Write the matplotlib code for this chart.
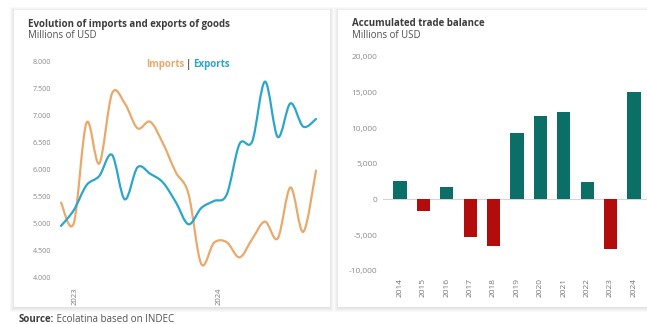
import numpy as np
import pandas as pd
import matplotlib.pyplot as plt
from matplotlib.path import Path
from matplotlib.patches import PathPatch, Rectangle

plt.rcParams['font.family'] = ['Open Sans', 'DejaVu Sans']

# monthly goods trade, millions of USD (Jan 2023 - Sep 2024)
months = [str(p) for p in pd.period_range('2023-01', '2024-09', freq='M')]
imports = [5390, 5010, 6860, 6110, 7400, 7220, 6760, 6880, 6480, 5950, 5550,
           4260, 4650, 4660, 4380, 4720, 5040, 4730, 5670, 4850, 5980]
exports = [4960, 5250, 5710, 5880, 6270, 5450, 6040, 5920, 5760, 5400, 4990,
           5290, 5420, 5540, 6470, 6520, 7620, 6600, 7220, 6790, 6930]
year_ticks = ['2023', '2024']

# accumulated trade balance, millions of USD
years = ['2014', '2015', '2016', '2017', '2018', '2019', '2020', '2021', '2022', '2023', '2024']
balance = [2600, -1600, 1700, -5200, -6500, 9400, 11750, 12250, 2450, -7000, 15150]

ORANGE = '#E9A96B'
BLUE = '#2BA6CB'
TEAL = '#0B6E67'
RED = '#B30C0C'

W, H = 647, 324
fig = plt.figure(figsize=(W / 100, H / 100), dpi=100)
fig.patch.set_facecolor('white')


def box(x0, y0, x1, y1):
    # pixel box (top-left origin) -> figure fraction [left, bottom, width, height]
    return [x0 / W, 1 - y1 / H, (x1 - x0) / W, (y1 - y0) / H]


def card(x0, y0, x1, y1):
    for k in range(5, 0, -1):
        l, b, w, h = box(x0 - k + 1, y0 - k + 2, x1 + k - 1, y1 + k)
        fig.patches.append(Rectangle((l, b), w, h, transform=fig.transFigure,
                                     facecolor='#000000', alpha=0.025, lw=0, zorder=-2))
    l, b, w, h = box(x0, y0, x1, y1)
    fig.patches.append(Rectangle((l, b), w, h, transform=fig.transFigure,
                                 facecolor='white', lw=0, zorder=-1))


card(14, 10, 330, 307)
card(338, 10, 660, 307)


def smooth_line(ax, xs, ys, color):
    pts = np.column_stack([xs, ys]).astype(float)
    n = len(pts)
    verts = [pts[0]]
    codes = [Path.MOVETO]
    for i in range(n - 1):
        p0 = pts[max(i - 1, 0)]
        p3 = pts[min(i + 2, n - 1)]
        c1 = pts[i] + (pts[i + 1] - p0) / 6
        c2 = pts[i + 1] - (p3 - pts[i]) / 6
        verts += [c1, c2, pts[i + 1]]
        codes += [Path.CURVE4] * 3
    ax.add_patch(PathPatch(Path(verts, codes), facecolor='none', edgecolor=color,
                           lw=1.6, clip_on=False, capstyle='round', joinstyle='round'))


# ---------------- left: imports / exports ----------------
ax1 = fig.add_axes(box(61, 61, 316, 278), zorder=2)
x = np.arange(len(months))
smooth_line(ax1, x, imports, ORANGE)
smooth_line(ax1, x, exports, BLUE)
ax1.set_xlim(0, len(months) - 1)
ax1.set_ylim(4000, 8000)
yt = np.arange(4000, 8001, 500)
ax1.set_yticks(yt)
ax1.set_yticklabels([f'{v:,}'.replace(',', '.') for v in yt], fontsize=5.2, color='#8a8a8a')
ax1.set_xticks([1.1, 12.4])
ax1.set_xticklabels(year_ticks, rotation=90, fontsize=5.5, color='#777777', va='top')
ax1.tick_params(axis='y', length=0, pad=7)
ax1.tick_params(axis='x', length=0, pad=7)
for s in ax1.spines.values():
    s.set_visible(False)
ax1.patch.set_alpha(0)

fig.text(184 / W, 1 - 64 / H, 'Imports', color=ORANGE, fontsize=7, fontweight='bold',
         ha='right', va='center')
fig.text(188.5 / W, 1 - 64 / H, '|', color='#555555', fontsize=7, fontweight='bold',
         ha='center', va='center')
fig.text(193 / W, 1 - 64 / H, 'Exports', color=BLUE, fontsize=7, fontweight='bold',
         ha='left', va='center')

fig.text(28 / W, 1 - 24 / H, 'Evolution of imports and exports of goods', fontsize=7,
         fontweight='bold', color='#3c3c3c', va='center')
fig.text(28 / W, 1 - 36 / H, 'Millions of USD', fontsize=6.9, color='#505050', va='center')

# ---------------- right: accumulated balance ----------------
ax2 = fig.add_axes(box(388.3, 57, 645.7, 270.7), zorder=2)
xb = np.arange(len(years))
ax2.bar(xb, balance, width=0.57, color=[TEAL if v >= 0 else RED for v in balance], zorder=2)
ax2.axhline(0, color='#d5d5d5', lw=0.8, zorder=1, xmin=-0.02, clip_on=False)
ax2.set_xlim(-0.5, len(years) - 0.5)
ax2.set_ylim(-10000, 20000)
yt2 = np.arange(-10000, 20001, 5000)
ax2.set_yticks(yt2)
ax2.set_yticklabels([f'{v:,}' for v in yt2], fontsize=6, color='#8a8a8a')
ax2.set_xticks(xb)
ax2.set_xticklabels(years, rotation=90, fontsize=6, color='#777777', va='top')
ax2.tick_params(axis='y', length=0, pad=8)
ax2.tick_params(axis='x', length=0, pad=5)
for s in ax2.spines.values():
    s.set_visible(False)
ax2.patch.set_alpha(0)

fig.text(352 / W, 1 - 24 / H, 'Accumulated trade balance', fontsize=7,
         fontweight='bold', color='#3c3c3c', va='center')
fig.text(352 / W, 1 - 36 / H, 'Millions of USD', fontsize=6.9, color='#505050', va='center')

# source
src = fig.text(19 / W, 1 - 320 / H, 'Source:', fontsize=7, fontweight='bold',
               color='#3c3c3c', va='center')
ax2.annotate(' Ecolatina based on INDEC', xy=(1, 0.5), xycoords=src, va='center',
             ha='left', fontsize=7, color='#505050', annotation_clip=False)

fig.savefig('out.png', dpi=100, facecolor='white')
